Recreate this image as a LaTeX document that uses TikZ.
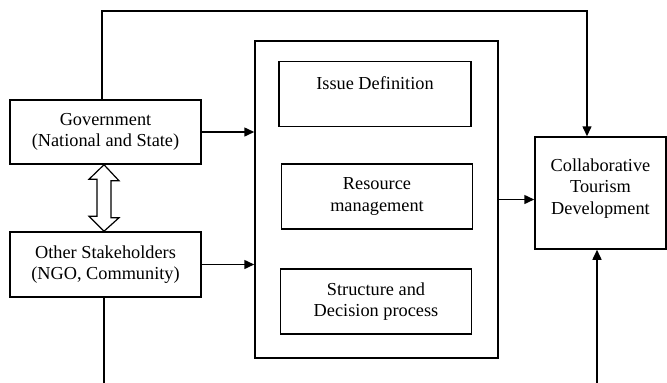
\documentclass[tikz,border=0pt]{standalone}
\usepackage{fontspec}
\setmainfont{Liberation Serif}
\usetikzlibrary{arrows.meta,calc}

\tikzset{
  box/.style={draw, rectangle, line width=1.5pt, align=center, inner sep=0pt,
    font=\fontsize{18.3}{21.5}\selectfont},
  link/.style={line width=1.5pt},
  flow/.style={link, -{Triangle[length=10pt,width=9pt]}},
}

\begin{document}
\begin{tikzpicture}[x=1pt, y=-1pt]
  \useasboundingbox (0,0) rectangle (667,383);

  % stakeholder boxes on the left
  \node[box, minimum width=191pt, minimum height=64pt] (gov) at (105.5,132)
    {Government\\(National and State)};
  \node[box, minimum width=191pt, minimum height=65pt] (other) at (105.5,264.5)
    {Other Stakeholders\\(NGO, Community)};

  % central process block
  \node[box, minimum width=243pt, minimum height=317pt] (mid) at (376.5,199.5) {};
  \node[box, minimum width=192pt, minimum height=65pt] (issue) at (375,94)
    {Issue Definition\\\mbox{}};
  \node[box, minimum width=191pt, minimum height=65pt] (res) at (377,196.5)
    {Resource\\management};
  \node[box, minimum width=191pt, minimum height=65pt] (struct) at (376,301.5)
    {Structure and\\Decision process};

  % outcome
  \node[box, minimum width=131pt, minimum height=112pt] (collab) at (600.5,193)
    {Collaborative\\Tourism\\Development\\[-8pt]\mbox{}};

  % routing points of the outer loops
  \coordinate (tl) at (102,11);
  \coordinate (tr) at (587,11);
  \coordinate (bl) at (104,384);
  \coordinate (br) at (597,384);

  % inputs into the process block
  \draw[flow] (gov.east) -- (gov.east -| mid.west);
  \draw[flow] (other.east) -- (other.east -| mid.west);
  \draw[flow] (mid.east) -- (mid.east -| collab.west);

  % direct loop from government to the outcome
  \draw[flow] (gov.north -| tl) -- (tl) -- (tr) -- (tr |- collab.north);

  % lines leaving at the bottom
  \draw[link] (other.south -| bl) -- (bl);
  \draw[flow] (br) -- (br |- collab.south);

  % two-way hollow arrow between the stakeholder groups
  \coordinate (ax) at (104,0);
  \draw[line width=1.2pt, line join=miter]
    (gov.south -| ax) -- ++(15,16) -- ++(-8,0) -- ++(0,37) -- ++(8,0)
    -- (other.north -| ax) -- ++(-15,-15) -- ++(8,0) -- ++(0,-37)
    -- ++(-8,0) -- cycle;
\end{tikzpicture}
\end{document}
